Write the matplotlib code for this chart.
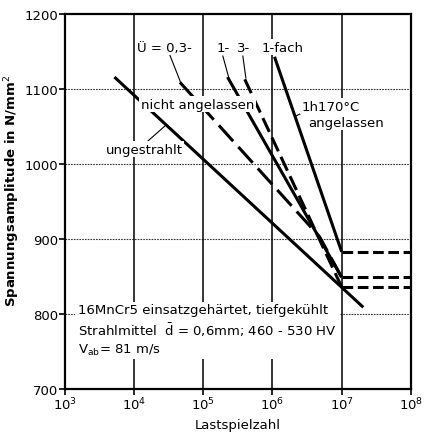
import matplotlib
matplotlib.use("Agg")
import matplotlib.pyplot as plt
import numpy as np

# ---- data ----
ungestrahlt_N = [5.2e3, 2.05e7]
ungestrahlt_S = [1116, 809]

ue03_N = [4.6e4, 4.8e6, 1e7]
ue03_S = [1109, 903, 849]

ue1_N = [2.24e5, 1e7]
ue1_S = [1116, 849]

ue3_N = [3.98e5, 1e7]
ue3_S = [1113, 836]

ang_N = [1.07e6, 1e7]
ang_S = [1143, 883]

limit_N = [1e7, 1e8]
limit_levels = [883, 849, 836]

yticks = [700, 800, 900, 1000, 1100, 1200]
xticks = [1e3, 1e4, 1e5, 1e6, 1e7, 1e8]
xticklabels = [r"$10^3$", r"$10^4$", r"$10^5$", r"$10^6$", r"$10^7$", r"$10^8$"]

plt.rcParams['font.family'] = ['DejaVu Sans']

fig = plt.figure(figsize=(4.24, 4.35), dpi=100)
ax = fig.add_axes([0.153, 0.1034, 0.816, 0.862])
ax.set_xscale('log')
ax.set_xlim(1e3, 1e8)
ax.set_ylim(700, 1200)

# grid
for y in yticks[1:-1]:
    ax.axhline(y, color='#333333', lw=0.8, ls=(0, (1.5, 1)), zorder=1)
for x in xticks[1:-1]:
    ax.axvline(x, color='black', lw=1.1, zorder=1)

lw = 2.2
ax.plot(ungestrahlt_N, ungestrahlt_S, color='black', lw=lw, solid_capstyle='butt', zorder=3)
ax.plot(ue03_N, ue03_S, color='black', lw=lw, ls=(0, (7, 2.5)), zorder=3)
ax.plot(ue1_N, ue1_S, color='black', lw=lw, solid_capstyle='butt', zorder=3)
ax.plot(ue3_N, ue3_S, color='black', lw=lw, ls=(0, (5, 2)), zorder=3)
ax.plot(ang_N, ang_S, color='black', lw=lw, solid_capstyle='butt', zorder=3)
for lev in limit_levels:
    ax.plot(limit_N, [lev, lev], color='black', lw=lw, ls=(0, (3.5, 1.5)), zorder=3)

ax.set_yticks(yticks)
ax.set_xticks(xticks)
ax.set_xticklabels(xticklabels)
ax.minorticks_off()
ax.tick_params(axis='both', direction='out', length=4, width=1.2, labelsize=9.5, pad=1)
for s in ax.spines.values():
    s.set_linewidth(1.6)

def fx(px):
    return (px - 65) / (411 - 65)
def fy(py):
    return (390 - py) / (390 - 15)

ax.set_ylabel("Spannungsamplitude in N/mm$^2$", fontsize=9.5, fontweight='bold')
ax.yaxis.set_label_coords(fx(22), fy(191))
ax.set_xlabel("Lastspielzahl", fontsize=9.5, labelpad=4)

bb = dict(facecolor='white', edgecolor='none', pad=1.0)
fs = 9.5

ax.text(fx(137), fy(48), "Ü = 0,3-", fontsize=fs, va='center', ha='left', transform=ax.transAxes, bbox=bb, zorder=5)
ax.text(fx(217), fy(48), "1-", fontsize=fs, va='center', ha='left', transform=ax.transAxes, bbox=bb, zorder=5)
ax.text(fx(237), fy(48), "3-", fontsize=fs, va='center', ha='left', transform=ax.transAxes, bbox=bb, zorder=5)
ax.text(fx(262), fy(48), "1-fach", fontsize=fs, va='center', ha='left', transform=ax.transAxes, bbox=bb, zorder=5)
ax.text(fx(141), fy(105), "nicht angelassen", fontsize=fs, va='center', ha='left', transform=ax.transAxes, bbox=bb, zorder=5)
ax.text(fx(106), fy(150), "ungestrahlt", fontsize=fs, va='center', ha='left', transform=ax.transAxes, bbox=bb, zorder=5)
ax.text(fx(302), fy(107), "1h170°C", fontsize=fs, va='center', ha='left', transform=ax.transAxes, bbox=bb, zorder=5)
ax.text(fx(308), fy(123), "angelassen", fontsize=fs, va='center', ha='left', transform=ax.transAxes, bbox=bb, zorder=5)

lk = dict(color='black', lw=0.8, transform=ax.transAxes, zorder=4)
ax.plot([fx(170), fx(181)], [fy(56), fy(84)], **lk)
ax.plot([fx(223), fx(229)], [fy(57), fy(79)], **lk)
ax.plot([fx(243), fx(246)], [fy(57), fy(79)], **lk)
ax.plot([fx(148), fx(165)], [fy(142), fy(127)], **lk)
ax.plot([fx(296), fx(306)], [fy(117), fy(112)], **lk)

ax.text(fx(78), fy(331),
        "16MnCr5 einsatzgehärtet, tiefgekühlt\nStrahlmittel  $\\bar{\\mathrm{d}}$ = 0,6mm; 460 - 530 HV\nV$_{\\mathrm{ab}}$= 81 m/s",
        fontsize=fs, va='center', ha='left', transform=ax.transAxes, linespacing=1.3,
        bbox=dict(facecolor='white', edgecolor='none', pad=2), zorder=5)

fig.savefig("out.png", dpi=100)
